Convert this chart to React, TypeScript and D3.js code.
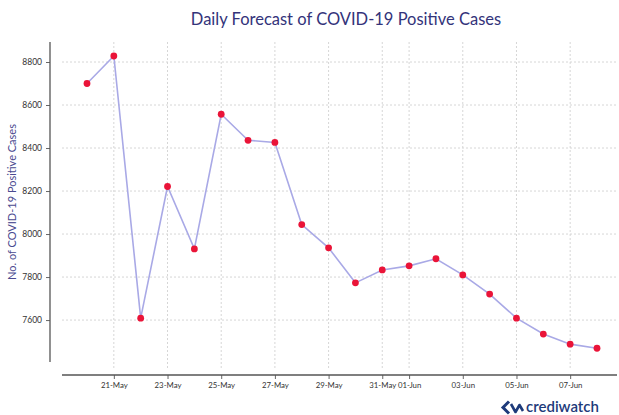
import React, { useEffect, useRef } from 'react';
import * as d3 from 'd3';

const dates = [
  '2020-05-20', '2020-05-21', '2020-05-22', '2020-05-23', '2020-05-24',
  '2020-05-25', '2020-05-26', '2020-05-27', '2020-05-28', '2020-05-29',
  '2020-05-30', '2020-05-31', '2020-06-01', '2020-06-02', '2020-06-03',
  '2020-06-04', '2020-06-05', '2020-06-06', '2020-06-07', '2020-06-08',
];
const cases = [
  8700, 8828, 7609, 8221, 7931, 8557, 8436, 8426, 8044, 7936,
  7773, 7833, 7852, 7885, 7810, 7721, 7609, 7535, 7488, 7469,
];
const yTicks = [7600, 7800, 8000, 8200, 8400, 8600, 8800];
const xTicks = [
  '2020-05-21', '2020-05-23', '2020-05-25', '2020-05-27', '2020-05-29',
  '2020-05-31', '2020-06-01', '2020-06-03', '2020-06-05', '2020-06-07',
];

const FONT = 'Lato, "Noto Sans", sans-serif';
const NAVY = '#33337a';

function App() {
  const ref = useRef<SVGSVGElement>(null);

  useEffect(() => {
    const width = 619;
    const height = 415;
    const parse = d3.timeParse('%Y-%m-%d');
    const data = dates.map((d, i) => ({ date: parse(d) as Date, value: cases[i] }));

    const svg = d3.select(ref.current);
    svg.selectAll('*').remove();
    svg.attr('width', width).attr('height', height);

    // the axes are drawn apart from each other (detached spines)
    const plotLeft = 62, plotRight = 617, plotTop = 42, plotBottom = 362;
    const x = d3.scaleTime()
      .domain([data[0].date, data[data.length - 1].date])
      .range([87, 597]);
    const y = d3.scaleLinear().domain([7405, 8893]).range([plotBottom, plotTop]);

    /* ------- GRID -------*/
    const grid = svg.append('g');
    grid.selectAll('line.h')
      .data(yTicks)
      .enter()
      .append('line')
      .attr('x1', plotLeft)
      .attr('x2', plotRight)
      .attr('y1', d => y(d))
      .attr('y2', d => y(d))
      .attr('stroke', '#d6d6d6')
      .attr('stroke-dasharray', '2,2');
    grid.selectAll('line.v')
      .data(xTicks.map(d => parse(d) as Date))
      .enter()
      .append('line')
      .attr('x1', d => x(d))
      .attr('x2', d => x(d))
      .attr('y1', plotTop)
      .attr('y2', 368)
      .attr('stroke', '#d6d6d6')
      .attr('stroke-dasharray', '2,2');

    /* ------- AXES -------*/
    const yAxis = svg.append('g')
      .attr('transform', 'translate(50,0)')
      .call(d3.axisLeft(y).tickValues(yTicks).tickSize(4).tickPadding(4).tickFormat(d3.format('d')));
    yAxis.select('.domain').remove();
    yAxis.selectAll('line').attr('stroke', '#666');
    yAxis.selectAll('text').attr('fill', '#333').style('font-family', FONT).style('font-size', '8.5px');
    svg.append('line')
      .attr('x1', 50).attr('x2', 50)
      .attr('y1', plotTop).attr('y2', plotBottom)
      .attr('stroke', '#555').attr('stroke-width', 1.3);

    const xAxis = svg.append('g')
      .attr('transform', 'translate(0,375)')
      .call(d3.axisBottom(x)
        .tickValues(xTicks.map(d => parse(d) as Date))
        .tickSize(4)
        .tickPadding(3)
        .tickFormat(d => d3.timeFormat('%d-%b')(d as Date)));
    xAxis.select('.domain').remove();
    xAxis.selectAll('line').attr('stroke', '#666');
    xAxis.selectAll('text').attr('fill', '#333').style('font-family', FONT).style('font-size', '7.8px');
    svg.append('line')
      .attr('x1', plotLeft).attr('x2', plotRight)
      .attr('y1', 375).attr('y2', 375)
      .attr('stroke', '#555').attr('stroke-width', 1.3);

    /* ------- LINE + MARKERS -------*/
    const line = d3.line<{ date: Date; value: number }>()
      .x(d => x(d.date))
      .y(d => y(d.value));
    svg.append('path')
      .datum(data)
      .attr('d', line)
      .attr('fill', 'none')
      .attr('stroke', '#a9a9e6')
      .attr('stroke-width', 1.6);
    svg.selectAll('circle.pt')
      .data(data)
      .enter()
      .append('circle')
      .attr('cx', d => x(d.date))
      .attr('cy', d => y(d.value))
      .attr('r', 3.4)
      .attr('fill', '#ea1438');

    /* ------- TEXT -------*/
    svg.append('text')
      .attr('x', 346)
      .attr('y', 25)
      .attr('text-anchor', 'middle')
      .attr('fill', NAVY)
      .style('font-family', FONT)
      .style('font-size', '16.5px')
      .text('Daily Forecast of COVID-19 Positive Cases');

    svg.append('text')
      .attr('transform', 'translate(16,202) rotate(-90)')
      .attr('text-anchor', 'middle')
      .attr('fill', '#4a4a90')
      .style('font-family', FONT)
      .style('font-size', '11px')
      .text('No. of COVID-19 Positive Cases');

    /* ------- LOGO -------*/
    const logo = svg.append('g');
    logo.append('path')
      .attr('d', 'M509 401.5 L503 407.5 L509 413.5')
      .attr('fill', 'none')
      .attr('stroke', '#1d3a7a')
      .attr('stroke-width', 3);
    logo.append('path')
      .attr('d', 'M511 404 L515.5 412 L519.5 405 L523 411')
      .attr('fill', 'none')
      .attr('stroke', '#1d3a7a')
      .attr('stroke-width', 2.6)
      .attr('stroke-linejoin', 'round');
    logo.append('text')
      .attr('x', 526)
      .attr('y', 412)
      .attr('fill', '#1d3a7a')
      .style('font-family', FONT)
      .style('font-size', '15px')
      .style('font-weight', 600)
      .text('crediwatch');
  }, []);

  return (
    <div style={{ position: 'absolute', left: 0, top: 0 }}>
      <svg ref={ref} style={{ display: 'block', background: '#fff' }}></svg>
    </div>
  );
}

export default App;
